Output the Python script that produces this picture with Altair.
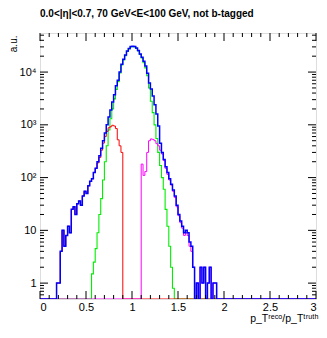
import altair as alt
import pandas as pd

# ---------------- data ----------------
BIN = 0.02

blue_start = 0.18
blue_counts = [1, 1, 4, 10, 5, 8, 12, 9, 25, 28, 20, 32, 36, 30, 45, 55, 50, 70, 85, 95,
               125, 150, 200, 260, 360, 500, 700, 1000, 1400, 1900, 2700, 3700, 5500, 7000,
               10000, 14000, 17500, 21000, 25000, 28000, 30500, 31000, 30500, 28500, 25500,
               22000, 19000, 16000, 13000, 9500, 6200, 4800, 3500, 2400, 1600, 950, 450, 300,
               220, 160, 125, 95, 75, 58, 45, 30, 20, 15, 12, 9, 10, 9, 6, 5, 2, 0, 1, 0, 2,
               1, 2, 0, 1, 2, 0, 1, 1]

green_start = 0.56
green_counts = [1.5, 2.5, 4.5, 9, 20, 40, 90, 200, 400, 800, 1300, 2000, 3100, 4700, 6600,
                9600, 13600, 17000, 20500, 24500, 27500, 30000, 30500, 30000, 28000, 25000,
                21500, 18500, 15000, 12000, 8500, 5000, 2800, 1700, 1000, 550, 300, 170, 100,
                60, 25, 12, 5, 2, 0.8]

red_start = 0.18
red_counts = [1, 1, 4, 10, 5, 8, 12, 9, 25, 28, 20, 32, 36, 30, 45, 55, 50, 70, 85, 95,
              125, 150, 190, 240, 330, 450, 600, 750, 880, 920, 980, 950, 850, 520, 400, 300]

magenta_start = 1.10
magenta_counts = [180, 110, 130, 300, 500, 540, 530, 500, 440, 400, 330, 280, 210, 150, 115,
                  90, 72, 55, 42, 28, 19, 14, 11, 8, 9, 8, 5, 4, 2, 0, 1, 0, 2, 1, 2, 0, 1,
                  2, 0, 1, 1]

x_major = [0, 0.5, 1, 1.5, 2, 2.5, 3]
x_minor = [round(i * 0.1, 2) for i in range(31) if i % 5 != 0]
y_major = [1, 10, 100, 1000, 10000]
y_minor = [0.6, 0.7, 0.8, 0.9] + [m * 10 ** k for k in range(4) for m in range(2, 10)] + [20000, 30000, 40000, 50000]

title_text = "0.0<|η|<0.7, 70 GeV<E<100 GeV, not b-tagged"
x_title = "p_Tʳᵉᶜᵒ/p_Tᵗʳᵘᵗʰ"
y_title = "a.u."

W, H = 276, 266
FONT = "Liberation Sans"


def hist_rows(start, counts):
    rows = [{"x": 0.0, "y": 0.0}]
    for i, c in enumerate(counts):
        rows.append({"x": round(start + i * BIN, 4), "y": c})
    rows.append({"x": round(start + len(counts) * BIN, 4), "y": 0.0})
    rows.append({"x": 3.0, "y": 0.0})
    return pd.DataFrame(rows)


xs = alt.Scale(domain=[0, 3], nice=False, zero=False)
ys = alt.Scale(type="log", domain=[0.5, 55000], nice=False)

x_axis = alt.Axis(values=x_major, format="~g", ticks=False, domain=False, grid=False,
                  labelFont=FONT, labelFontSize=11, labelColor="#000", labelPadding=2,
                  title=x_title, titleFont=FONT, titleFontSize=10.5, titleFontWeight="normal",
                  titleColor="#000", titleX=W + 2, titleY=22, titleAlign="right",
                  titleBaseline="alphabetic")
y_axis = alt.Axis(values=y_major, ticks=False, domain=False, grid=False,
                  labelExpr="datum.value >= 10000 ? '10⁴' : datum.value >= 1000 ? '10³' : datum.value >= 100 ? '10²' : datum.value >= 10 ? '10' : '1'",
                  labelFont=FONT, labelFontSize=11, labelColor="#000", labelPadding=4,
                  title=y_title, titleFont=FONT, titleFontSize=10, titleFontWeight="normal",
                  titleColor="#000", titleX=-27, titleY=2, titleAngle=-90,
                  titleAlign="right", titleBaseline="middle")

X = alt.X("x:Q", scale=xs, axis=x_axis)
Y = alt.Y("yc:Q", scale=ys, axis=y_axis)


def hist_layer(start, counts, color, sw):
    df = hist_rows(start, counts)
    return alt.Chart(df).transform_calculate(yc="max(datum.y, 0.5)").mark_line(
        interpolate="step-after", clip=True, strokeWidth=sw, color=color
    ).encode(x=X, y=Y)


def xtick_layer(vals, length, top):
    df = pd.DataFrame({"x": vals})
    if top:
        yv, y2v = alt.value(0), alt.value(length)
    else:
        yv, y2v = alt.value(H), alt.value(H - length)
    return alt.Chart(df).mark_rule(color="#000", strokeWidth=1).encode(x=X, y=yv, y2=y2v)


def ytick_layer(vals, length, left):
    df = pd.DataFrame({"yc": vals})
    if left:
        xv, x2v = alt.value(0), alt.value(length)
    else:
        xv, x2v = alt.value(W), alt.value(W - length)
    return alt.Chart(df).mark_rule(color="#000", strokeWidth=1).encode(y=Y, x=xv, x2=x2v)


layers = [
    hist_layer(green_start, green_counts, "#00ee00", 1.1),
    hist_layer(red_start, red_counts, "#ff0000", 1.0),
    hist_layer(magenta_start, magenta_counts, "#ff00ff", 1.0),
    hist_layer(blue_start, blue_counts, "#0000ff", 1.5),
    xtick_layer(x_major, 8, True), xtick_layer(x_minor, 4, True),
    xtick_layer(x_major, 8, False), xtick_layer(x_minor, 4, False),
    ytick_layer(y_major, 8, True), ytick_layer(y_minor, 4, True),
    ytick_layer(y_major, 8, False), ytick_layer(y_minor, 4, False),
]

chart = alt.layer(*layers).properties(
    width=W, height=H,
    title=alt.Title(title_text, anchor="start", frame="group", font=FONT, fontSize=10,
                    fontWeight="bold", color="#000", offset=14),
    autosize=alt.AutoSizeParams(type="none"),
    padding={"left": 32, "top": 25, "right": 3, "bottom": 26},
).configure_view(stroke="#000", strokeWidth=1).configure(background="white")

chart.save("out.html", embed_options={"renderer": "svg", "actions": False})
